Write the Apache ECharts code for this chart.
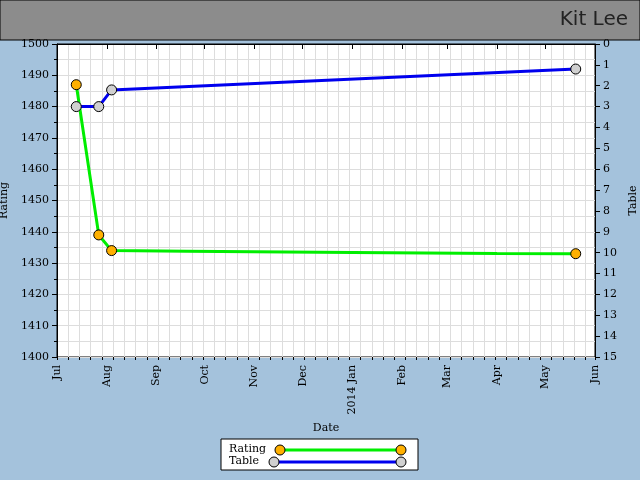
<!DOCTYPE html>
<html><head><meta charset="utf-8">
<script src="https://cdn.jsdelivr.net/npm/echarts@6/dist/echarts.min.js"></script>
<style>html,body{margin:0;padding:0;background:#a4c2dc}#c{width:640px;height:480px}</style>
</head><body><div id="c"></div>
<script>
// data
const ratingDates = ['2013-07-13', '2013-07-27', '2013-08-04', '2013-09-20', '2014-01-01', '2014-04-01', '2014-05-20'];
const ratingValues = [1487, 1439, 1434, 1433.8, 1433.4, 1433.1, 1433];
const ratingMarked = [true, true, true, false, false, false, true];
const tableDates = ['2013-07-13', '2013-07-27', '2013-08-04', '2014-05-20'];
const tableValues = [3, 3, 2.2, 1.2];
const monthNames = ['Jan','Feb','Mar','Apr','May','Jun','Jul','Aug','Sep','Oct','Nov','Dec'];

const font = 'DejaVu Serif';
const chart = echarts.init(document.getElementById('c'));
const ms = d => new Date(d + 'T00:00:00Z').getTime();

chart.setOption({
  backgroundColor: '#a4c2dc',
  animation: false,
  textStyle: { fontFamily: font },
  grid: { left: 57, right: 45, top: 44, bottom: 123, containLabel: false, outerBoundsMode: 'none', show: true, backgroundColor: '#fff', borderColor: '#000', borderWidth: 1 },
  xAxis: [{
    type: 'time', min: ms('2013-07-01'), max: ms('2014-06-01'), splitNumber: 12,
    name: 'Date', nameLocation: 'middle', nameGap: 50, nameTextStyle: { color: '#000', fontFamily: font, fontSize: 11 },
    axisLine: { lineStyle: { color: '#000' } },
    axisTick: { lineStyle: { color: '#000' } },
    splitLine: { show: false },
    axisLabel: {
      rotate: 90, color: '#000', fontFamily: font, fontSize: 11,
      formatter: v => { const d = new Date(v); const m = d.getUTCMonth(); return m === 0 ? d.getUTCFullYear() + ' ' + monthNames[m] : monthNames[m]; }
    }
  }, {
    type: 'value', min: 0, max: 335, interval: 7, position: 'bottom',
    axisLine: { show: false }, axisLabel: { show: false }, axisTick: { show: true, length: 3, lineStyle: { color: '#000' } },
    splitLine: { show: true, lineStyle: { color: '#ddd' } }
  }],
  yAxis: [{
    type: 'value', min: 1400, max: 1500, interval: 10, name: 'Rating', nameLocation: 'middle', nameGap: 38,
    nameTextStyle: { color: '#000', fontFamily: font, fontSize: 11 },
    axisLine: { show: true, lineStyle: { color: '#000' } }, axisTick: { show: true, lineStyle: { color: '#000' } },
    axisLabel: { color: '#000', fontFamily: font, fontSize: 11, formatter: v => String(v) },
    splitLine: { lineStyle: { color: '#ddd' } },
    minorTick: { show: true, splitNumber: 2 }, minorSplitLine: { show: true, lineStyle: { color: '#ddd' } }
  }, {
    type: 'value', min: 0, max: 15, interval: 1, inverse: true, name: 'Table', nameLocation: 'middle', nameGap: 28,
    nameTextStyle: { color: '#000', fontFamily: font, fontSize: 11 },
    axisLine: { show: true, lineStyle: { color: '#000' } }, axisTick: { show: true, lineStyle: { color: '#000' } },
    axisLabel: { color: '#000', fontFamily: font, fontSize: 11 }, splitLine: { show: false }
  }],
  series: [{
    type: 'line', yAxisIndex: 0, xAxisIndex: 0, symbolSize: 10,
    lineStyle: { color: '#00ee00', width: 3 },
    itemStyle: { color: '#ffb000', borderColor: '#000', borderWidth: 1 },
    data: ratingDates.map((d, i) => ({ value: [ms(d), ratingValues[i]], symbol: ratingMarked[i] ? 'circle' : 'none' }))
  }, {
    type: 'line', yAxisIndex: 1, xAxisIndex: 0, symbol: 'circle', symbolSize: 10,
    lineStyle: { color: '#0000ee', width: 3 },
    itemStyle: { color: '#d0d0d0', borderColor: '#000', borderWidth: 1 },
    data: tableDates.map((d, i) => [ms(d), tableValues[i]])
  }],
  graphic: [
    { type: 'rect', shape: { x: 0, y: 0, width: 640, height: 40 }, style: { fill: '#8c8c8c', stroke: '#000', lineWidth: 1 } },
    { type: 'text', right: 12, top: 10, style: { text: 'Kit Lee', font: '20px "DejaVu Sans"', fill: '#222' } },
    { type: 'rect', shape: { x: 221, y: 439, width: 197, height: 31 }, style: { fill: '#fff', stroke: '#000', lineWidth: 1 } },
    { type: 'text', x: 229, y: 444, style: { text: 'Rating', font: '11px "DejaVu Serif"', fill: '#000' } },
    { type: 'text', x: 229, y: 456, style: { text: 'Table', font: '11px "DejaVu Serif"', fill: '#000' } },
    { type: 'line', shape: { x1: 280, y1: 450, x2: 401, y2: 450 }, style: { stroke: '#00ee00', lineWidth: 3 } },
    { type: 'line', shape: { x1: 274, y1: 462, x2: 401, y2: 462 }, style: { stroke: '#0000ee', lineWidth: 3 } },
    { type: 'circle', shape: { cx: 280, cy: 450, r: 5 }, style: { fill: '#ffb000', stroke: '#000' } },
    { type: 'circle', shape: { cx: 401, cy: 450, r: 5 }, style: { fill: '#ffb000', stroke: '#000' } },
    { type: 'circle', shape: { cx: 274, cy: 462, r: 5 }, style: { fill: '#d0d0d0', stroke: '#000' } },
    { type: 'circle', shape: { cx: 401, cy: 462, r: 5 }, style: { fill: '#d0d0d0', stroke: '#000' } }
  ]
});
</script></body></html>
